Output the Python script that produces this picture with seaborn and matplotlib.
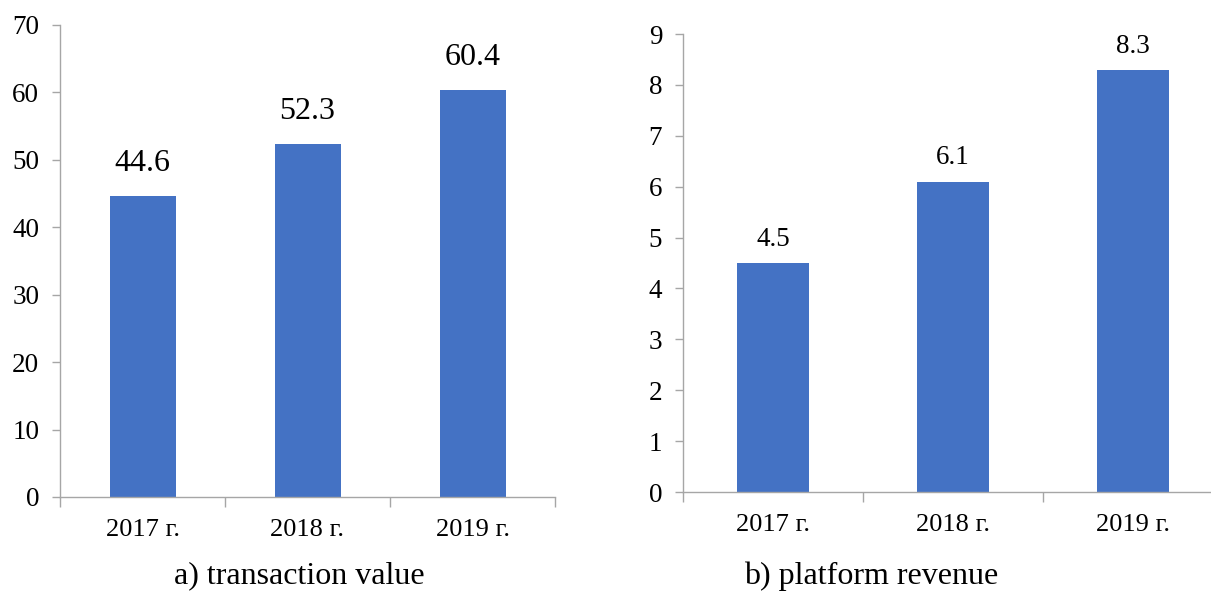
import matplotlib
matplotlib.use("Agg")
import matplotlib.pyplot as plt
import seaborn as sns
import pandas as pd

sns.set_theme(style="white")
plt.rcParams['font.family'] = ['Liberation Serif', 'DejaVu Serif']
plt.rcParams['text.color'] = 'black'
plt.rcParams['xtick.color'] = 'black'
plt.rcParams['ytick.color'] = 'black'

categories = ["2017 г.", "2018 г.", "2019 г."]
transaction_value = [44.6, 52.3, 60.4]
platform_revenue = [4.5, 6.1, 8.3]
titles = ["a) transaction value", "b) platform revenue"]

W, H = 1211, 596
fig = plt.figure(figsize=(W / 100, H / 100), dpi=100)

def px_axes(left, top, right, bottom):
    return fig.add_axes([left / W, 1 - bottom / H, (right - left) / W, (bottom - top) / H])

ax1 = px_axes(60, 25, 555, 497)
ax2 = px_axes(683, 34, 1223, 492)

bar_color = "#4472C4"
spine_color = "#A6A6A6"

def draw(ax, values, ymax, label_size, label_pad):
    df = pd.DataFrame({"cat": categories, "val": values})
    sns.barplot(data=df, x="cat", y="val", ax=ax, color=bar_color, width=0.4,
                saturation=1, edgecolor="none")
    ax.set_xlim(-0.5, len(categories) - 0.5)
    ax.set_ylim(0, ymax)
    ax.set_xlabel("")
    ax.set_ylabel("")
    for s in ["top", "right"]:
        ax.spines[s].set_visible(False)
    for s in ["left", "bottom"]:
        ax.spines[s].set_color(spine_color)
        ax.spines[s].set_linewidth(1.0)
    ax.tick_params(axis="y", which="both", left=True, length=6, color=spine_color,
                   width=1.0, labelsize=19.5, pad=9, labelcolor="black")
    ax.tick_params(axis="x", which="major", bottom=False, labelsize=19, pad=10,
                   labelcolor="black")
    ax.set_xticks(range(len(categories)))
    ax.set_xticklabels(categories)
    ax.set_xticks([i - 0.5 for i in range(len(categories) + 1)], minor=True)
    ax.tick_params(axis="x", which="minor", bottom=True, length=7, color=spine_color, width=1.0)
    for c in ax.containers:
        ax.bar_label(c, labels=[f"{v:.1f}" for v in values], fontsize=label_size,
                     padding=label_pad, color="black")

draw(ax1, transaction_value, 70, 23, 13)
draw(ax2, platform_revenue, 9, 19.5, 8)
ax1.set_yticks(range(0, 71, 10))
ax2.set_yticks(range(0, 10, 1))

fig.text(299 / W, 1 - 576 / H, titles[0], ha="center", va="center", fontsize=23)
fig.text(871 / W, 1 - 576 / H, titles[1], ha="center", va="center", fontsize=23)

fig.savefig("out.png", dpi=100, facecolor="white")
